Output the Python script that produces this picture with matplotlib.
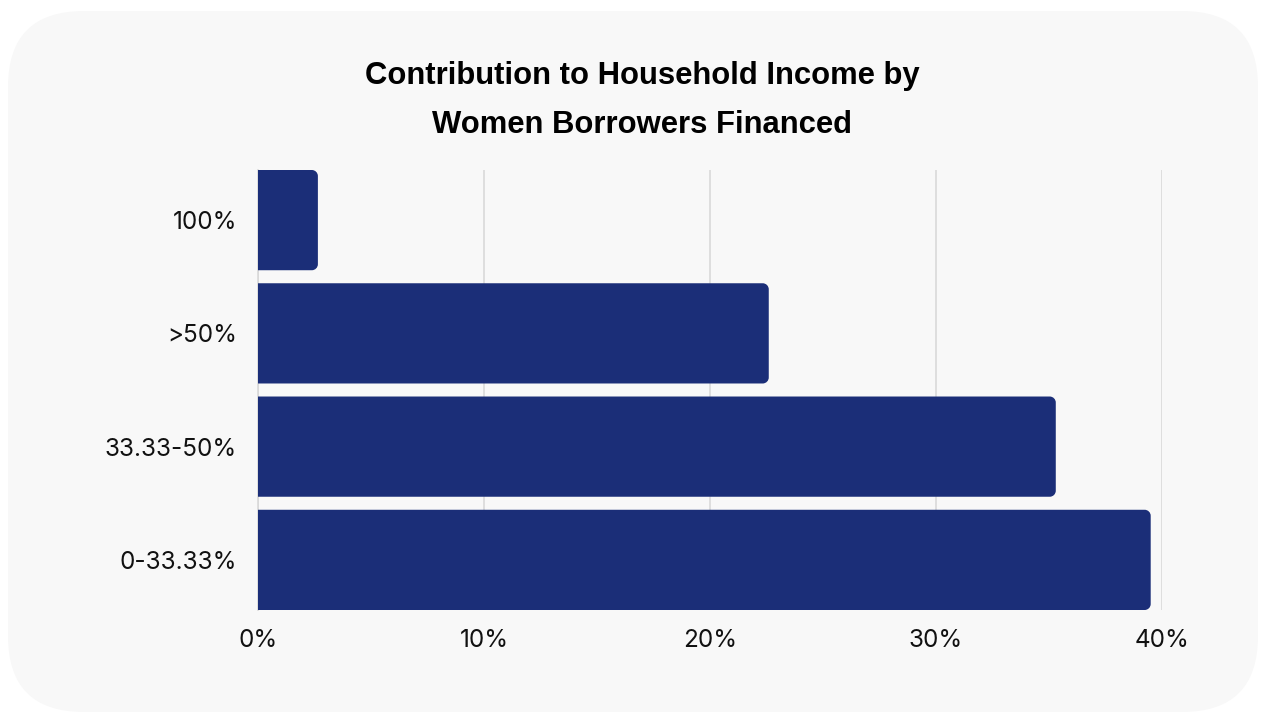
import matplotlib
matplotlib.use("Agg")
from matplotlib import pyplot as plt
from matplotlib.patches import FancyBboxPatch, PathPatch
from matplotlib.path import Path

categories = ["0-33.33%", "33.33-50%", ">50%", "100%"]
values = [39.5, 35.3, 22.6, 2.65]
ticks = [0, 10, 20, 30, 40]
tick_labels = ["0%", "10%", "20%", "30%", "40%"]

bar_color = "#1b2e78"
bg_color = "#f8f8f8"


def rounded_right(x, y, w, h, rx, ry):
    # rectangle with the two right corners rounded
    k = 0.55
    verts = [(x, y), (x + w - rx, y),
             (x + w - rx + k * rx, y), (x + w, y + ry - k * ry), (x + w, y + ry),
             (x + w, y + h - ry),
             (x + w, y + h - ry + k * ry), (x + w - rx + k * rx, y + h), (x + w - rx, y + h),
             (x, y + h), (x, y)]
    codes = [Path.MOVETO, Path.LINETO,
             Path.CURVE4, Path.CURVE4, Path.CURVE4,
             Path.LINETO,
             Path.CURVE4, Path.CURVE4, Path.CURVE4,
             Path.LINETO, Path.CLOSEPOLY]
    return Path(verts, codes)


fig = plt.figure(figsize=(12.65, 7.13), dpi=100)
fig.patch.set_facecolor("white")

# rounded card behind everything
card = FancyBboxPatch((8 / 1265, 1 / 713), 1250 / 1265, 701 / 713,
                      boxstyle="round,pad=0,rounding_size=0.06",
                      transform=fig.transFigure, facecolor=bg_color,
                      edgecolor="none", zorder=-5,
                      mutation_aspect=1265 / 713)
fig.patches.append(card)

ax = fig.add_axes([258 / 1265, 1 - 610 / 713, 904 / 1265, 440 / 713])
ax.set_facecolor("none")
ax.set_zorder(2)

h = 0.885
bars = ax.barh(range(len(categories)), values, height=h, color=bar_color)
ax.set_xlim(0, 40)
ax.set_ylim(-h / 2, len(categories) - 1 + h / 2)

rx = 6 / 22.6
ry = 6 / 113
for b in bars:
    b.set_visible(False)
    p = rounded_right(b.get_x(), b.get_y(), b.get_width(), b.get_height(), rx, ry)
    ax.add_patch(PathPatch(p, facecolor=bar_color, edgecolor="none", zorder=3))

ax.set_xticks(ticks)
ax.set_xticklabels(tick_labels)
ax.set_yticks(range(len(categories)))
ax.set_yticklabels(categories)
ax.tick_params(axis="both", length=0, labelsize=17.5, colors="#111111")
ax.tick_params(axis="x", pad=14)
ax.tick_params(axis="y", pad=15)
for lab in ax.get_xticklabels() + ax.get_yticklabels():
    lab.set_family(["Inter", "DejaVu Sans"])

ax.grid(axis="x", color="#d9d9d9", linewidth=1.2, zorder=0)
ax.set_axisbelow(True)
for s in ["top", "right", "bottom"]:
    ax.spines[s].set_visible(False)
ax.spines["left"].set_color("#d9d9d9")
ax.spines["left"].set_linewidth(1.2)

title_font = ["Liberation Sans", "DejaVu Sans"]
fig.text(642 / 1265, 1 - 76 / 713, "Contribution to Household Income by",
         ha="center", va="center", fontsize=22.3, fontweight="bold",
         family=title_font, color="black")
fig.text(642 / 1265, 1 - 125 / 713, "Women Borrowers Financed",
         ha="center", va="center", fontsize=22.3, fontweight="bold",
         family=title_font, color="black")

fig.savefig("out.png", dpi=100, facecolor="white")
